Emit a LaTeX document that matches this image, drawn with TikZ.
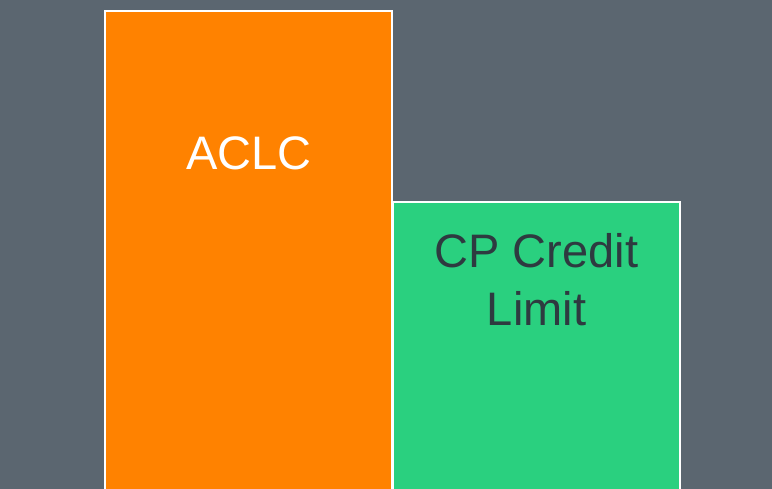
\documentclass[tikz,border=0pt]{standalone}
\usepackage{fontspec}
\setmainfont{Liberation Sans}
\definecolor{bgc}{HTML}{5B6670}
\definecolor{orangec}{HTML}{FF8200}
\definecolor{greenc}{HTML}{2AD07F}
\definecolor{darktxt}{HTML}{2E3A40}
\tikzset{
  bar/.style={draw=white, line width=2pt, inner sep=0pt, outer sep=0pt},
  bigtext/.style={font=\fontsize{47}{54}\selectfont, inner sep=0pt, anchor=base}
}
\begin{document}
\begin{tikzpicture}[x=1pt,y=-1pt]
\useasboundingbox (0,0) rectangle (772,489);
\fill[bgc] (0,0) rectangle (772,489);
\begin{scope}
\clip (0,0) rectangle (772,489);
\node[bar, fill=orangec, minimum width=287pt, minimum height=500pt, anchor=north west] (aclcbox) at (105,11) {};
\node[bar, fill=greenc, minimum width=287pt, minimum height=300pt, anchor=north west] (cpbox) at (393,202.5) {};
\end{scope}
\node[bigtext, text=white] (aclc) at (249,170) {ACLC};
\node[bigtext, text=darktxt] (cp1) at (536.5,268) {CP Credit};
\node[bigtext, text=darktxt] (cp2) at (536.5,326) {Limit};
\end{tikzpicture}
\end{document}
